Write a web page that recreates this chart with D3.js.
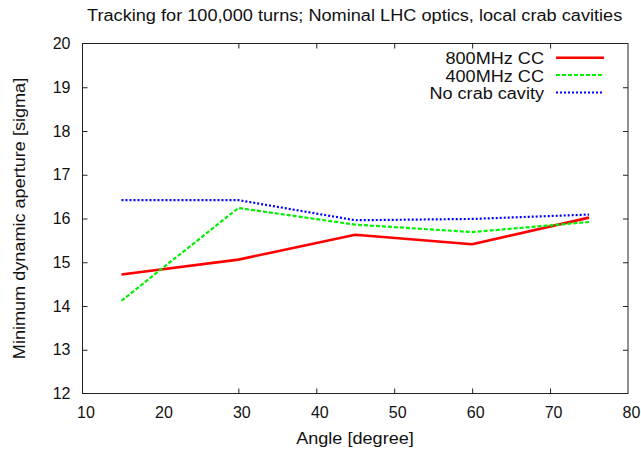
<!DOCTYPE html>
<html>
<head>
<meta charset="utf-8">
<script src="https://cdn.jsdelivr.net/npm/d3@7"></script>
<style>
  html, body { margin: 0; padding: 0; background: #fff; }
  svg text { font-family: "Liberation Sans", Arial, Helvetica, sans-serif; fill: #111; }
</style>
</head>
<body>
<svg id="chart" width="641" height="455"></svg>
<script>
// Crossing angles (degrees)
const angles = [15, 30, 45, 60, 75];
// Minimum dynamic aperture [sigma] for each configuration
const cc800 = [14.72, 15.06, 15.63, 15.41, 16.02];
const cc400 = [14.12, 16.24, 15.86, 15.69, 15.92];
const noCC  = [16.42, 16.42, 15.96, 15.99, 16.09];

const seriesNames = ["800MHz CC", "400MHz CC", "No crab cavity"];
const seriesColors = ["#ff0000", "#00f000", "#0000ff"];
const xTicks = [10, 20, 30, 40, 50, 60, 70, 80];
const yTicks = [12, 13, 14, 15, 16, 17, 18, 19, 20];

const titleText = "Tracking for 100,000 turns; Nominal LHC optics, local crab cavities";
const xLabel = "Angle [degree]";
const yLabel = "Minimum dynamic aperture [sigma]";

const svg = d3.select("#chart");
const m = { left: 82.5, right: 628, top: 43.5, bottom: 393.5 };
const fs = 16;

const x = d3.scaleLinear().domain([10, 80]).range([m.left, m.right]);
const y = d3.scaleLinear().domain([12, 20]).range([m.bottom, m.top]);

// frame
svg.append("rect")
  .attr("x", m.left).attr("y", m.top)
  .attr("width", m.right - m.left).attr("height", m.bottom - m.top)
  .attr("fill", "none").attr("stroke", "#222").attr("stroke-width", 1);

const tickLen = 5;
// bottom axis: labels + inward ticks
const gx = svg.append("g").attr("transform", `translate(0,${m.bottom})`)
  .call(d3.axisBottom(x).tickValues(xTicks).tickSize(-tickLen).tickPadding(13));
gx.select(".domain").remove();
gx.selectAll("text").attr("font-size", fs).attr("fill", "#111").attr("dx", 3);
gx.selectAll("line").attr("stroke", "#222");

// top mirror ticks
const gxt = svg.append("g").attr("transform", `translate(0,${m.top})`)
  .call(d3.axisTop(x).tickValues(xTicks).tickSize(-tickLen).tickFormat(""));
gxt.select(".domain").remove();
gxt.selectAll("line").attr("stroke", "#222");

// left axis
const gy = svg.append("g").attr("transform", `translate(${m.left},0)`)
  .call(d3.axisLeft(y).tickValues(yTicks).tickSize(-tickLen).tickPadding(12));
gy.select(".domain").remove();
gy.selectAll("text").attr("font-size", fs).attr("fill", "#111");
gy.selectAll("line").attr("stroke", "#222");

// right mirror ticks
const gyr = svg.append("g").attr("transform", `translate(${m.right},0)`)
  .call(d3.axisRight(y).tickValues(yTicks).tickSize(-tickLen).tickFormat(""));
gyr.select(".domain").remove();
gyr.selectAll("line").attr("stroke", "#222");

// ticks at the ends coincide with the frame; hide them
svg.selectAll(".tick").filter(d => d === 10 || d === 80 || d === 12 || d === 20)
  .select("line").attr("opacity", 0);

// slightly widened lettering for the titles and key
function widen(sel, k) {
  const w = sel.node().getComputedTextLength();
  sel.attr("textLength", w * k).attr("lengthAdjust", "spacingAndGlyphs");
}

// titles
const title = svg.append("text").attr("x", 87).attr("y", 21)
  .attr("text-anchor", "start").attr("font-size", fs).text(titleText);
widen(title, 1.135);
const xl = svg.append("text").attr("x", 355).attr("y", 444)
  .attr("text-anchor", "middle").attr("font-size", fs).text(xLabel);
widen(xl, 1.13);
const yl = svg.append("text")
  .attr("transform", `translate(25,${(m.top + m.bottom) / 2}) rotate(-90)`)
  .attr("text-anchor", "middle").attr("font-size", fs).text(yLabel);
widen(yl, 1.13);

const series = [cc800, cc400, noCC];
const styles = [
  { width: 2.6, dash: null },
  { width: 2.2, dash: "4,2" },
  { width: 2.2, dash: "2,2" }
];

const line = d3.line().x((d, i) => x(angles[i])).y(d => y(d));

series.forEach((vals, k) => {
  svg.append("path")
    .datum(vals)
    .attr("d", line)
    .attr("fill", "none")
    .attr("stroke", seriesColors[k])
    .attr("stroke-width", styles[k].width)
    .attr("stroke-dasharray", styles[k].dash)
    .attr("stroke-linejoin", "round");
});

// legend
const legY = [57.7, 75, 92.5];
seriesNames.forEach((name, k) => {
  const t = svg.append("text").attr("x", 544).attr("y", legY[k] + 6.5)
    .attr("text-anchor", "end").attr("font-size", fs).text(name);
  widen(t, 1.13);
  svg.append("line")
    .attr("x1", 556).attr("x2", 604).attr("y1", legY[k]).attr("y2", legY[k])
    .attr("stroke", seriesColors[k])
    .attr("stroke-width", styles[k].width)
    .attr("stroke-dasharray", styles[k].dash);
});
</script>
</body>
</html>
